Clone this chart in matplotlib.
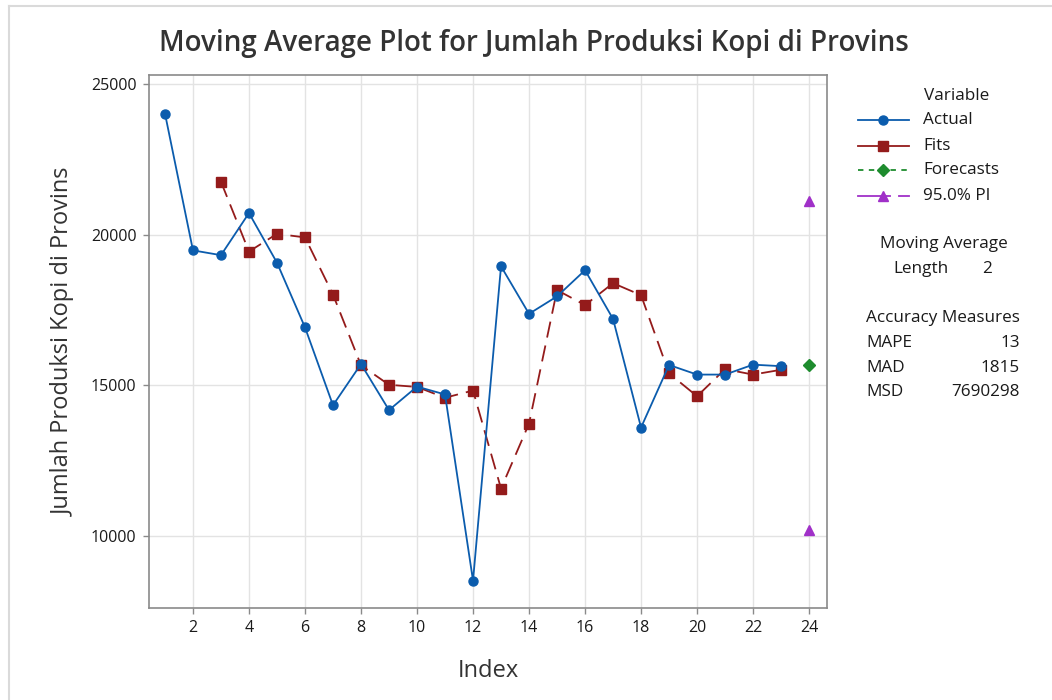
import matplotlib
matplotlib.use("Agg")
import matplotlib.pyplot as plt
from matplotlib.lines import Line2D

# ---- data ----
index_actual = list(range(1, 24))
actual = [24030, 19480, 19320, 20720, 19070, 16920, 14330, 15700, 14170, 14950,
          14690, 8500, 18950, 17370, 17950, 18820, 17200, 13590, 15670, 15350,
          15350, 15680, 15630]
index_fits = list(range(3, 24))
fits = [21760, 19440, 20030, 19910, 18010, 15660, 15010, 14940, 14580, 14820,
        11560, 13720, 18160, 17660, 18390, 17990, 15390, 14630, 15530, 15350, 15510]
index_forecast = [24]
forecast = [15660]
pi_lower = [10180]
pi_upper = [21110]

xticks = list(range(2, 25, 2))
yticks = [10000, 15000, 20000, 25000]

title = "Moving Average Plot for Jumlah Produksi Kopi di Provins"
ylabel = "Jumlah Produksi Kopi di Provins"
xlabel = "Index"

legend_labels = ["Actual", "Fits", "Forecasts", "95.0% PI"]
ma_length = 2
accuracy_names = ["MAPE", "MAD", "MSD"]
accuracy_values = ["13", "1815", "7690298"]

# ---- style ----
FONT = "Open Sans"
plt.rcParams["font.family"] = [FONT, "DejaVu Sans"]
C_ACT = "#0B5CAD"
C_FIT = "#941B1B"
C_FC = "#1E8C2E"
C_PI = "#A030C8"
TXT = "#1A1A1A"
LFS = 12.3

W, H = 1052, 700
fig = plt.figure(figsize=(W / 100, H / 100), dpi=100)
fig.patch.set_facecolor("white")

def fx(px):
    return px / W

def fy(py):
    return 1 - py / H

ax = fig.add_axes([fx(149), fy(608), fx(827) - fx(149), fy(75) - fy(608)])
ax.set_xlim(0.43, 24.64)
ax.set_ylim(7590, 25310)

ax.plot(index_actual, actual, color=C_ACT, lw=1.3, marker="o", ms=6.5,
        mec=C_ACT, mfc=C_ACT, zorder=4)
ax.plot(index_fits, fits, color=C_FIT, lw=1.3, ls=(0, (9, 4.5)), marker="s",
        ms=7, mec=C_FIT, mfc=C_FIT, zorder=3)
ax.plot(index_forecast, forecast, color=C_FC, lw=0, marker="D", ms=6,
        mec=C_FC, mfc=C_FC, zorder=5)
ax.plot(index_forecast, pi_lower, color=C_PI, lw=0, marker="^", ms=7,
        mec=C_PI, mfc=C_PI, zorder=5)
ax.plot(index_forecast, pi_upper, color=C_PI, lw=0, marker="^", ms=7,
        mec=C_PI, mfc=C_PI, zorder=5)

ax.set_xticks(xticks)
ax.set_yticks(yticks)
ax.set_xticklabels([str(t) for t in xticks])
ax.set_yticklabels([str(t) for t in yticks])
ax.grid(True, color="#E3E3E3", lw=1.0, zorder=0)
ax.set_axisbelow(True)
for s in ax.spines.values():
    s.set_color("#8A8A8A")
    s.set_linewidth(1.2)
ax.tick_params(axis="both", direction="out", length=4, width=1, color="#8A8A8A",
               labelsize=11.5, labelcolor=TXT, pad=5)

ax.set_xlabel(xlabel, fontsize=17, color="#333333", labelpad=16)
ax.set_ylabel(ylabel, fontsize=17, color="#333333", labelpad=11)

fig.text(fx(534), fy(44), title, ha="center", va="center", fontsize=20,
         fontweight="semibold", color="#333333")

# ---- legend drawn manually ----
fig.text(fx(957), fy(96), "Variable", ha="center", va="center", fontsize=LFS, color=TXT)
rows = [(120, C_ACT, "-", "o", 6.5),
        (146, C_FIT, "-", "s", 7),
        (170, C_FC, (0, (3, 3)), "D", 6),
        (196, C_PI, None, "^", 7)]
for (py, col, ls, mk, ms), lab in zip(rows, legend_labels):
    if ls is None:
        fig.add_artist(Line2D([fx(858), fx(890)], [fy(py), fy(py)], color=col, lw=1.3,
                              transform=fig.transFigure))
        fig.add_artist(Line2D([fx(899), fx(909)], [fy(py), fy(py)], color=col, lw=1.3,
                              transform=fig.transFigure))
    else:
        fig.add_artist(Line2D([fx(858), fx(909)], [fy(py), fy(py)], color=col, lw=1.3,
                              ls=ls, transform=fig.transFigure))
    fig.add_artist(Line2D([fx(883)], [fy(py)], color=col, marker=mk, ms=ms, mfc=col,
                          mec=col, lw=0, transform=fig.transFigure))
    fig.text(fx(923), fy(py), lab, ha="left", va="center", fontsize=LFS, color=TXT)

fig.text(fx(944), fy(244), "Moving Average", ha="center", va="center", fontsize=LFS, color=TXT)
fig.text(fx(893), fy(269), "Length", ha="left", va="center", fontsize=LFS, color=TXT)
fig.text(fx(992), fy(269), str(ma_length), ha="right", va="center", fontsize=LFS, color=TXT)
fig.text(fx(943), fy(318), "Accuracy Measures", ha="center", va="center", fontsize=LFS, color=TXT)
for i, (n, v) in enumerate(zip(accuracy_names, accuracy_values)):
    py = 343 + i * 24.5
    fig.text(fx(866), fy(py), n, ha="left", va="center", fontsize=LFS, color=TXT)
    fig.text(fx(1020), fy(py), v, ha="right", va="center", fontsize=LFS, color=TXT)

# outer light frame
fig.add_artist(Line2D([fx(8.5), fx(8.5)], [fy(6), 0], color="#DADADA", lw=1.5,
                      transform=fig.transFigure))
fig.add_artist(Line2D([fx(8.5), 1], [fy(6), fy(6)], color="#DADADA", lw=1.5,
                      transform=fig.transFigure))

fig.savefig("out.png", dpi=100, facecolor="white")
